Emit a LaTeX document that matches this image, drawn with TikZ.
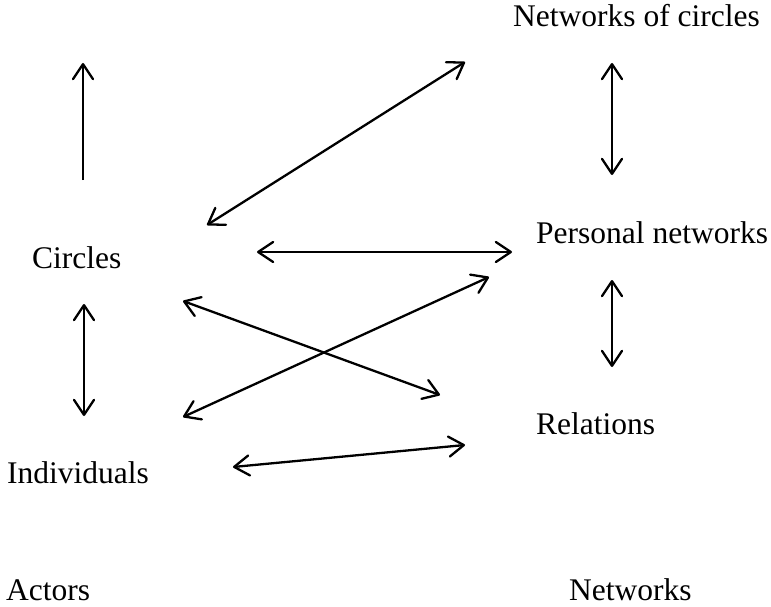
\documentclass[tikz,border=0pt]{standalone}
\usepackage{fontspec}
\setmainfont{Liberation Serif}
\usetikzlibrary{arrows.meta}
\begin{document}
\begin{tikzpicture}[x=1pt,y=-1pt,
  lbl/.style={anchor=base west,inner sep=0pt,font=\fontsize{31.5}{36}\selectfont},
  conn/.style={line width=2.3pt,{Straight Barb[length=15pt,width=20pt,line width=2.3pt,round]}-{Straight Barb[length=15pt,width=20pt,line width=2.3pt,round]}},
  oneway/.style={line width=2.3pt,-{Straight Barb[length=15pt,width=20pt,line width=2.3pt,round]}}]
\useasboundingbox (0,0) rectangle (771,607);
\node[lbl] (netcirc) at (513,27) {Networks of circles};
\node[lbl] (pers) at (536,243) {Personal networks};
\node[lbl] (circ) at (32,268) {Circles};
\node[lbl] (rel) at (536,434) {Relations};
\node[lbl] (ind) at (7,483) {Individuals};
\node[lbl] (act) at (6,600) {Actors};
\node[lbl] (nets) at (569,600) {Networks};
% endpoints
\coordinate (u1) at (83,180); \coordinate (u2) at (83,63);
\coordinate (d1) at (207,225); \coordinate (d2) at (465,62);
\coordinate (r1) at (612,63); \coordinate (r2) at (612,175);
\coordinate (h1) at (257,252); \coordinate (h2) at (512,252);
\coordinate (v1) at (84,304); \coordinate (v2) at (84,416);
\coordinate (w1) at (612,280); \coordinate (w2) at (612,367);
\coordinate (x1) at (183,301); \coordinate (x2) at (440,395);
\coordinate (y1) at (183,417); \coordinate (y2) at (489,277);
\coordinate (b1) at (233,467); \coordinate (b2) at (465,445);
\draw[oneway] (u1) -- (u2);
\draw[conn] (d1) -- (d2);
\draw[conn] (r1) -- (r2);
\draw[conn] (h1) -- (h2);
\draw[conn] (v1) -- (v2);
\draw[conn] (w1) -- (w2);
\draw[conn] (x1) -- (x2);
\draw[conn] (y1) -- (y2);
\draw[conn] (b1) -- (b2);
\end{tikzpicture}
\end{document}
